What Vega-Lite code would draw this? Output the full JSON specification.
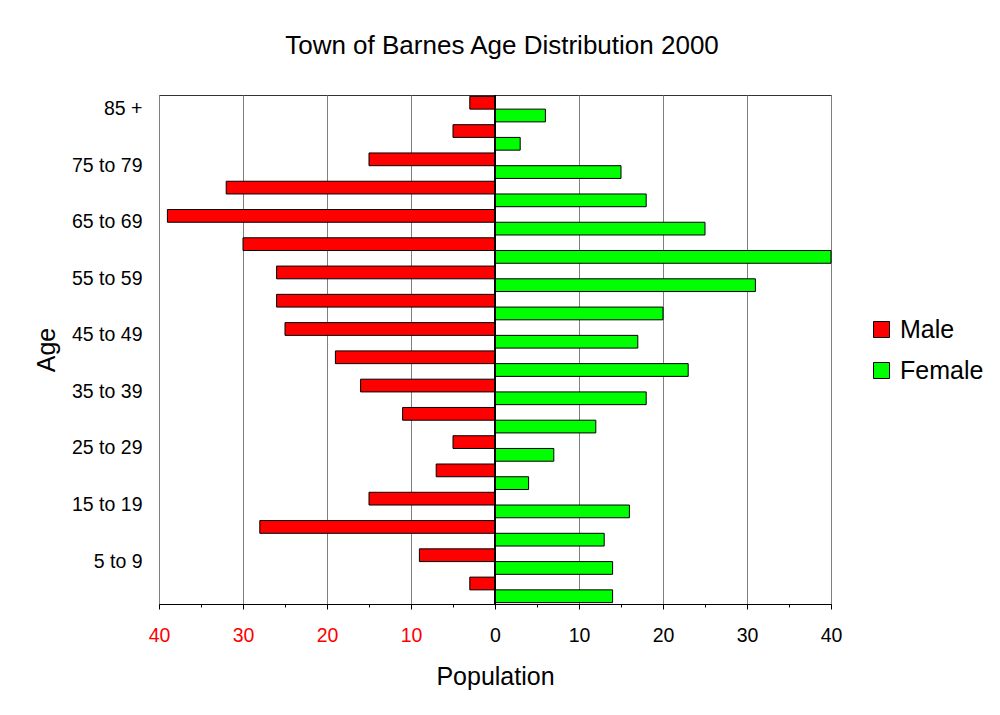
{
  "$schema": "https://vega.github.io/schema/vega-lite/v6.json",
  "width": 672,
  "height": 509,
  "autosize": {"type": "none"},
  "padding": {"left": 159, "top": 95, "right": 169, "bottom": 111},
  "background": "white",
  "title": {"text": "Town of Barnes Age Distribution 2000", "fontSize": 26, "font": "Liberation Sans", "fontWeight": "normal", "color": "black", "anchor": "middle", "frame": "group", "dx": 7, "offset": 36},
  "data": {"values": [
    {"age": "85 +", "sex": "Male", "population": 3},
    {"age": "85 +", "sex": "Female", "population": 6},
    {"age": "80 to 84", "sex": "Male", "population": 5},
    {"age": "80 to 84", "sex": "Female", "population": 3},
    {"age": "75 to 79", "sex": "Male", "population": 15},
    {"age": "75 to 79", "sex": "Female", "population": 15},
    {"age": "70 to 74", "sex": "Male", "population": 32},
    {"age": "70 to 74", "sex": "Female", "population": 18},
    {"age": "65 to 69", "sex": "Male", "population": 39},
    {"age": "65 to 69", "sex": "Female", "population": 25},
    {"age": "60 to 64", "sex": "Male", "population": 30},
    {"age": "60 to 64", "sex": "Female", "population": 40},
    {"age": "55 to 59", "sex": "Male", "population": 26},
    {"age": "55 to 59", "sex": "Female", "population": 31},
    {"age": "50 to 54", "sex": "Male", "population": 26},
    {"age": "50 to 54", "sex": "Female", "population": 20},
    {"age": "45 to 49", "sex": "Male", "population": 25},
    {"age": "45 to 49", "sex": "Female", "population": 17},
    {"age": "40 to 44", "sex": "Male", "population": 19},
    {"age": "40 to 44", "sex": "Female", "population": 23},
    {"age": "35 to 39", "sex": "Male", "population": 16},
    {"age": "35 to 39", "sex": "Female", "population": 18},
    {"age": "30 to 34", "sex": "Male", "population": 11},
    {"age": "30 to 34", "sex": "Female", "population": 12},
    {"age": "25 to 29", "sex": "Male", "population": 5},
    {"age": "25 to 29", "sex": "Female", "population": 7},
    {"age": "20 to 24", "sex": "Male", "population": 7},
    {"age": "20 to 24", "sex": "Female", "population": 4},
    {"age": "15 to 19", "sex": "Male", "population": 15},
    {"age": "15 to 19", "sex": "Female", "population": 16},
    {"age": "10 to 14", "sex": "Male", "population": 28},
    {"age": "10 to 14", "sex": "Female", "population": 13},
    {"age": "5 to 9", "sex": "Male", "population": 9},
    {"age": "5 to 9", "sex": "Female", "population": 14},
    {"age": "0 to 4", "sex": "Male", "population": 3},
    {"age": "0 to 4", "sex": "Female", "population": 14}
  ]},
  "transform": [{"calculate": "datum.sex === 'Male' ? -datum.population : datum.population", "as": "value"}],
  "layer": [
    {
      "mark": {"type": "bar", "stroke": "black", "strokeWidth": 1, "opacity": 1},
      "encoding": {
        "y": {
          "field": "age", "type": "nominal",
          "scale": {"domain": ["85 +", "80 to 84", "75 to 79", "70 to 74", "65 to 69", "60 to 64", "55 to 59", "50 to 54", "45 to 49", "40 to 44", "35 to 39", "30 to 34", "25 to 29", "20 to 24", "15 to 19", "10 to 14", "5 to 9", "0 to 4"], "paddingInner": 0, "paddingOuter": 0},
          "axis": {
            "values": ["85 +", "75 to 79", "65 to 69", "55 to 59", "45 to 49", "35 to 39", "25 to 29", "15 to 19", "5 to 9"],
            "ticks": false, "tickSize": 0, "domain": false, "grid": false,
            "labelFont": "Liberation Sans", "labelFontSize": 19.5, "labelColor": "black", "labelPadding": 17,
            "title": "Age", "titleFont": "Liberation Sans", "titleFontSize": 25, "titleFontWeight": "normal", "titleColor": "black", "titlePadding": 12
          }
        },
        "yOffset": {"field": "sex", "type": "nominal", "scale": {"domain": ["Male", "Female"], "paddingOuter": 0.11, "paddingInner": 0}},
        "x": {
          "field": "value", "type": "quantitative",
          "scale": {"domain": [-40, 40], "nice": false},
          "axis": {
            "values": [-40, -35, -30, -25, -20, -15, -10, -5, 0, 5, 10, 15, 20, 25, 30, 35, 40],
            "labelExpr": "datum.value % 10 === 0 ? format(abs(datum.value), 'd') : ''",
            "labelColor": {"condition": {"test": "datum.value < 0", "value": "#ff0000"}, "value": "black"},
            "labelFont": "Liberation Sans", "labelFontSize": 19.5, "labelPadding": 17,
            "labelFlush": false, "labelOverlap": false,
            "tickSize": {"condition": {"test": "datum.value % 10 === 0", "value": 5}, "value": 3},
            "tickColor": "black", "domainColor": "black",
            "grid": true,
            "gridColor": "#808080",
            "gridOpacity": {"condition": {"test": "datum.value % 10 === 0", "value": 1}, "value": 0},
            "title": "Population", "titleFont": "Liberation Sans", "titleFontSize": 25, "titleFontWeight": "normal", "titleColor": "black", "titlePadding": 20
          }
        },
        "color": {
          "field": "sex", "type": "nominal",
          "scale": {"domain": ["Male", "Female"], "range": ["#ff0000", "#00ff00"]},
          "legend": {
            "orient": "none", "legendX": 710, "legendY": 222, "title": null,
            "symbolType": "square", "symbolSize": 256, "symbolStrokeColor": "black", "symbolStrokeWidth": 1, "symbolOpacity": 1,
            "labelFont": "Liberation Sans", "labelFontSize": 25, "labelColor": "black", "labelOffset": 6, "rowPadding": 15
          }
        }
      }
    },
    {
      "mark": {"type": "rule", "color": "black", "strokeWidth": 1},
      "encoding": {"x": {"datum": 0}}
    }
  ],
  "config": {
    "view": {"stroke": "#333333", "strokeWidth": 1},
    "font": "Liberation Sans"
  }
}
